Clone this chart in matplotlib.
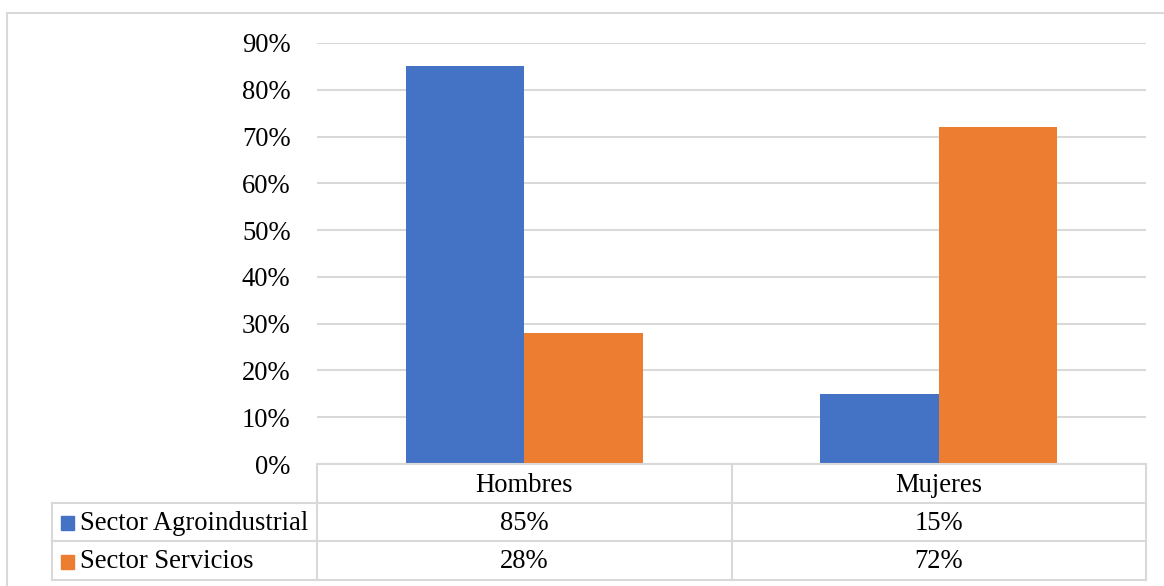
import matplotlib.pyplot as plt
import numpy as np
from matplotlib.lines import Line2D
from matplotlib.patches import Rectangle
from matplotlib.transforms import blended_transform_factory

# Data:
categories = ['Hombres', 'Mujeres']
series_names = ['Sector Agroindustrial', 'Sector Servicios']
agro = [85, 15]
servicios = [28, 72]
colors = ['#4472C4', '#ED7D31']
grid_c = '#d9d9d9'

plt.rcParams['font.family'] = ['Liberation Serif', 'DejaVu Serif']
fsize = 19.2

W, H = 1164, 586
fig = plt.figure(figsize=(W / 100, H / 100), dpi=100)


def fx(px):
    return px / W


def fy(py):
    return 1 - py / H


ax = fig.add_axes([fx(317), fy(464), fx(1146) - fx(317), fy(43) - fy(464)])

x = np.arange(len(categories))
w = 0.286
ax.bar(x - w / 2, agro, w, color=colors[0], zorder=2)
ax.bar(x + w / 2, servicios, w, color=colors[1], zorder=2)

ax.set_xlim(-0.5, len(categories) - 0.5)
ax.set_ylim(0, 90)
ax.set_yticks(np.arange(0, 91, 10))
ax.set_yticklabels([f'{v}%' for v in range(0, 91, 10)], fontsize=fsize)
ax.tick_params(axis='y', length=0, pad=19)
ax.set_xticks([])
ax.grid(axis='y', color=grid_c, linewidth=1.5, zorder=1)
for s in ax.spines.values():
    s.set_visible(False)

# Outer chart border
fig.add_artist(Rectangle((fx(7), fy(600)), 1.2, fy(13) - fy(600),
                         transform=fig.transFigure, fill=False,
                         edgecolor=grid_c, linewidth=1.5))

# Data table
rows_y = [464, 503, 541, 580]
tr = blended_transform_factory(ax.transData, fig.transFigure)
edges = [-0.5 + i for i in range(len(categories) + 1)]


def hline(x0, x1, py):
    fig.add_artist(Line2D([x0, x1], [fy(py), fy(py)], transform=tr,
                          color=grid_c, linewidth=1.5))


def vline(xd, py0, py1, trans=tr):
    fig.add_artist(Line2D([xd, xd], [fy(py0), fy(py1)], transform=trans,
                          color=grid_c, linewidth=1.5))


left_data = -0.5 - (317 - 52) / 414.5
hline(edges[0], edges[-1], rows_y[0])
for py in rows_y[1:]:
    hline(left_data, edges[-1], py)
for e in edges:
    vline(e, rows_y[0], rows_y[-1])
vline(left_data, rows_y[1], rows_y[-1])

for i, c in enumerate(categories):
    fig.text(x[i], fy((rows_y[0] + rows_y[1]) / 2 + 2), c, transform=tr,
             ha='center', va='center', fontsize=fsize)
for r, (name, vals) in enumerate(zip(series_names, [agro, servicios])):
    yc = fy((rows_y[r + 1] + rows_y[r + 2]) / 2 + 1)
    fig.add_artist(Rectangle((fx(61), yc - 7 / H), 13 / W, 14 / H,
                             transform=fig.transFigure, color=colors[r]))
    fig.text(fx(80), yc, name, ha='left', va='center', fontsize=fsize)
    for i, v in enumerate(vals):
        fig.text(x[i], yc, f'{v}%', transform=tr, ha='center', va='center',
                 fontsize=fsize)

plt.savefig('out.png', dpi=100)
